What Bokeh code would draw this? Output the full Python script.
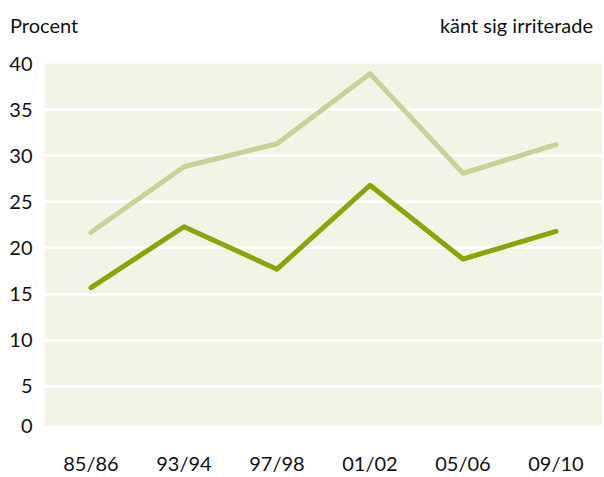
from bokeh.plotting import figure
from bokeh.models import FixedTicker, Range1d, Div
from bokeh.layouts import column
from bokeh.embed import file_html
from bokeh.resources import INLINE

periods = ["85/86", "93/94", "97/98", "01/02", "05/06", "09/10"]
light_series = [21.7, 28.8, 31.3, 38.9, 28.1, 31.2]
dark_series = [15.7, 22.3, 17.7, 26.8, 18.8, 21.8]
y_ticks = [0.75, 5, 10, 15, 20, 25, 30, 35, 40]
grid_ticks = [5, 10, 15, 20, 25, 30, 35]
left_title = "Procent"
right_title = "känt sig irriterade"

FONT = "Lato"

header = Div(
    text=(f'<div style="display:flex;justify-content:space-between;width:593px;'
          f'padding:13px 0 0 10px;font-family:{FONT};font-size:20px;color:#111111;line-height:24px;">'
          f'<span>{left_title}</span><span>{right_title}</span></div>'),
    width=602, height=40, margin=0,
)

p = figure(x_range=periods, y_range=Range1d(0.75, 40), width=602, height=437,
           output_backend="svg", toolbar_location=None, margin=0,
           min_border_left=44, min_border_right=0, min_border_top=23, min_border_bottom=44)
p.background_fill_color = "#f2f4e8"
p.border_fill_color = "white"
p.outline_line_color = None

p.line(periods, light_series, line_color="#c5d394", line_width=5, line_cap="round", line_join="round")
p.line(periods, dark_series, line_color="#87a600", line_width=5, line_cap="round", line_join="round")

p.xgrid.grid_line_color = None
p.ygrid.grid_line_color = "white"
p.ygrid.grid_line_width = 3
p.ygrid.ticker = FixedTicker(ticks=grid_ticks)
p.yaxis.ticker = FixedTicker(ticks=y_ticks)
p.yaxis.major_label_overrides = {0.75: "0"}
for ax in (p.xaxis[0], p.yaxis[0]):
    ax.axis_line_color = None
    ax.major_tick_line_color = None
    ax.minor_tick_line_color = None
    ax.major_label_text_font = FONT
    ax.major_label_text_font_size = "20px"
    ax.major_label_text_color = "#111111"
p.yaxis.major_label_standoff = 6
p.xaxis.major_label_standoff = 19

layout = column(header, p, spacing=0)
open("out.html", "w").write(file_html(layout, INLINE))
